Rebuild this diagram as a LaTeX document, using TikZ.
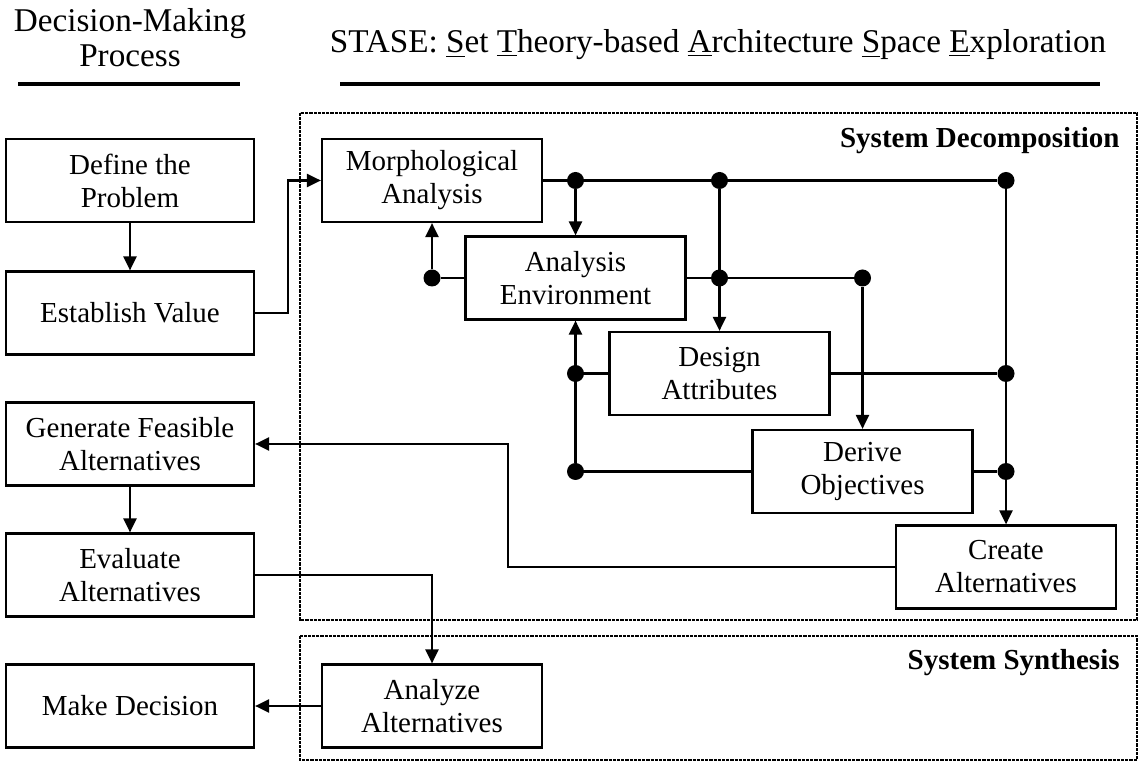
\documentclass[tikz,border=0pt]{standalone}
\usepackage{fontspec}
\setmainfont{Liberation Serif}
\usetikzlibrary{arrows.meta}
\begin{document}
\begin{tikzpicture}[x=0.5pt,y=-0.5pt,
  box/.style={draw,line width=1.1pt,minimum width=110pt,minimum height=41.5pt,align=center,
    font=\fontsize{14.5}{16.5}\selectfont,inner sep=0pt},
  lbox/.style={box,minimum width=124pt},
  dot/.style={circle,fill,inner sep=0pt,minimum size=8.5pt},
  conn/.style={line width=1.1pt},
  arr/.style={conn,-{Triangle[length=7pt,width=6.5pt]}},
  dashbox/.style={line width=1.2pt,dash pattern=on 1.6pt off 0.5pt},
  head/.style={align=center,font=\fontsize{16.6}{17.5}\selectfont,inner sep=0pt},
  rule/.style={line width=1.7pt},
  sec/.style={anchor=east,font=\fontsize{14.5}{16.5}\selectfont\bfseries,inner sep=0pt}
]
\useasboundingbox (0,0) rectangle (1139,763);

% headers
\node[head] (h1) at (130,38) {Decision-Making\\Process};
\node[head] (h2) at (718,45) {STASE: \underline{S}et \underline{T}heory-based \underline{A}rchitecture \underline{S}pace \underline{E}xploration};
\draw[rule] (18,84) -- (240,84);
\draw[rule] (340,84) -- (1100,84);

% dashed regions
\draw[dashbox] (300,113) rectangle (1137,620);
\draw[dashbox] (300,636) rectangle (1137,760);
\node[sec] (sdl) at (1120,141) {System Decomposition};
\node[sec] (ssl) at (1120,663) {System Synthesis};

% left boxes
\node[lbox] (def) at (130,180.5) {Define the\\Problem};
\node[lbox] (est) at (130,313) {Establish Value};
\node[lbox] (gen) at (130,444) {Generate Feasible\\Alternatives};
\node[lbox] (eva) at (130,575) {Evaluate\\Alternatives};
\node[lbox] (mak) at (130,706) {Make Decision};

% right boxes
\node[box] (mor) at (432,180.5) {Morphological\\Analysis};
\node[box] (ae)  at (575.5,278) {Analysis\\Environment};
\node[box] (da)  at (719.5,373.5) {Design\\Attributes};
\node[box] (do)  at (862.5,471.5) {Derive\\Objectives};
\node[box] (ca)  at (1006,567) {Create\\Alternatives};
\node[box] (aa)  at (432,706) {Analyze\\Alternatives};

% dots
\node[dot] (t1) at (575.5,180.5) {};
\node[dot] (t2) at (719.5,180.5) {};
\node[dot] (t3) at (1006,180.5) {};
\node[dot] (al) at (432,278) {};
\node[dot] (ar1) at (719.5,278) {};
\node[dot] (ar2) at (862.5,278) {};
\node[dot] (dl) at (575.5,373.5) {};
\node[dot] (dr) at (1006,373.5) {};
\node[dot] (ol) at (575.5,471.5) {};
\node[dot] (or) at (1006,471.5) {};

\coordinate (k1) at (288,313);
\coordinate (k2) at (508,567);

% left column arrows
\draw[arr] (def) -- (est);
\draw[arr] (gen) -- (eva);
\draw[arr] (est.east) -- (k1) |- (mor.west);

% decomposition network
\draw[conn] (mor.east) -- (t3);
\draw[arr] (t1) -- (ae.north);
\draw[arr] (t2) -- (da.north);
\draw[arr] (t3) -- (ca.north);
\draw[conn] (ae.west) -- (al);
\draw[arr] (al) -- (mor.south);
\draw[conn] (ae.east) -- (ar2);
\draw[arr] (ar2) -- (do.north);
\draw[conn] (da.west) -- (dl);
\draw[arr] (ol) -- (ae.south);
\draw[conn] (da.east) -- (dr);
\draw[conn] (do.west) -- (ol);
\draw[conn] (do.east) -- (or);

% cross links
\draw[arr] (ca.west) -- (k2) |- (gen.east);
\draw[arr] (eva.east) -| (aa.north);
\draw[arr] (aa.west) -- (mak.east);
\end{tikzpicture}
\end{document}
